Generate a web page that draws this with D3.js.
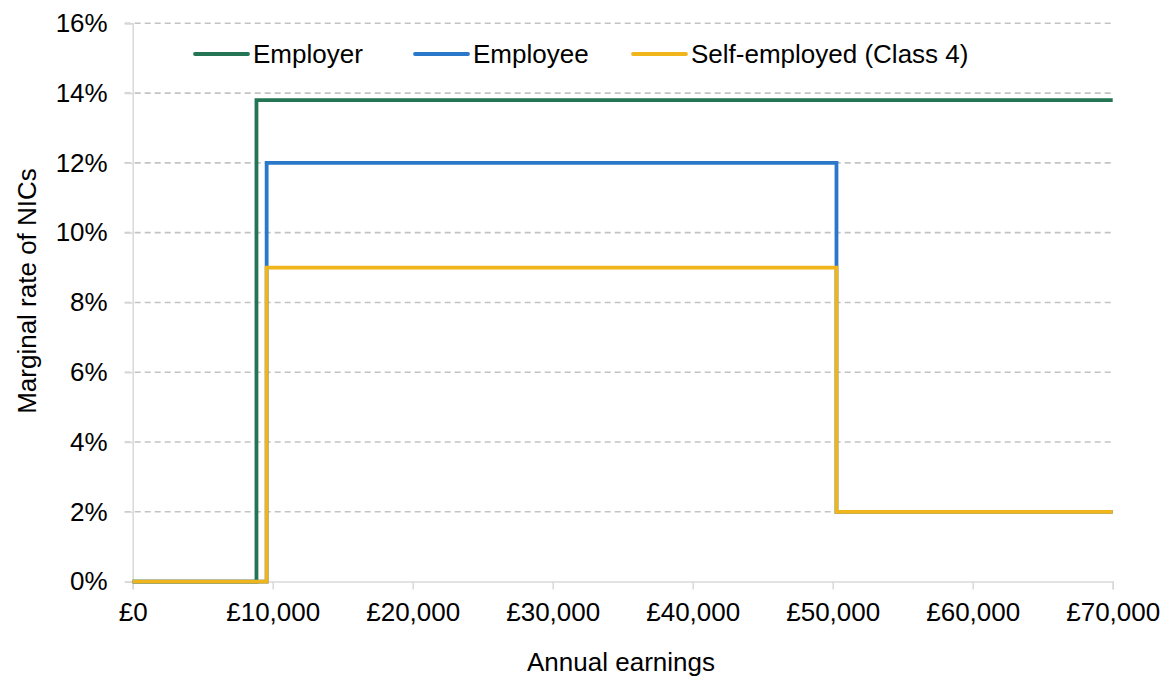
<!DOCTYPE html>
<html><head><meta charset="utf-8">
<script src="https://cdn.jsdelivr.net/npm/d3@7"></script>
<style>body{margin:0;background:#fff}svg{display:block}text{font-family:"Liberation Sans",Arial,sans-serif}</style>
</head><body><svg id="c" width="1176" height="676"></svg>
<script>
const seriesNames = ["Employer", "Employee", "Self-employed (Class 4)"];
const seriesColors = ["#237553", "#2a78c9", "#f1b51c"];
const employerEarnings = [0, 8840, 70000];
const employerRates = [0, 13.8, 13.8];
const employeeEarnings = [0, 9568, 50270, 70000];
const employeeRates = [0, 12, 2, 2];
const selfEarnings = [0, 9568, 50270, 70000];
const selfRates = [0, 9, 2, 2];
const xTicks = [0, 10000, 20000, 30000, 40000, 50000, 60000, 70000];
const yTicks = [0, 2, 4, 6, 8, 10, 12, 14, 16];

const series = [
  {name: seriesNames[0], color: seriesColors[0], pts: employerEarnings.map((e,i)=>({x:e,y:employerRates[i]}))},
  {name: seriesNames[1], color: seriesColors[1], pts: employeeEarnings.map((e,i)=>({x:e,y:employeeRates[i]}))},
  {name: seriesNames[2], color: seriesColors[2], pts: selfEarnings.map((e,i)=>({x:e,y:selfRates[i]}))}
];

const FS = 26;
const svg = d3.select("#c");
const L = 132.7, R = 1112.7, T = 23.3, B = 581.6;
const x = d3.scaleLinear().domain([0, 70000]).range([L, R]);
const y = d3.scaleLinear().domain([0, 16]).range([B, T]);

// gridlines
svg.append("g").selectAll("line").data(yTicks.filter(d=>d>0)).join("line")
  .attr("x1", L-8).attr("x2", R).attr("y1", d=>y(d)).attr("y2", d=>y(d))
  .attr("stroke", "#c3c3c3").attr("stroke-width", 1.6).attr("stroke-dasharray", "6,4");

// y axis
const ya = svg.append("g").attr("transform", `translate(${L},0)`)
  .call(d3.axisLeft(y).tickValues(yTicks).tickFormat(d=>d+"%").tickSize(8).tickPadding(17));
ya.select(".domain").attr("stroke", "#d9d9d9").attr("stroke-width", 1.5);
ya.selectAll(".tick line").attr("stroke", "#d9d9d9").attr("stroke-width", 1.5);
ya.selectAll(".tick text").attr("font-size", FS).attr("fill", "#000").attr("font-family", "Liberation Sans, Arial, sans-serif");

// x axis
const xa = svg.append("g").attr("transform", `translate(0,${B})`)
  .call(d3.axisBottom(x).tickValues(xTicks).tickFormat(d=>"£"+d3.format(",")(d)).tickSize(8).tickPadding(13));
xa.select(".domain").attr("stroke", "#d9d9d9").attr("stroke-width", 1.5);
xa.selectAll(".tick line").attr("stroke", "#d9d9d9").attr("stroke-width", 1.5);
xa.selectAll(".tick text").attr("font-size", FS).attr("fill", "#000").attr("font-family", "Liberation Sans, Arial, sans-serif");

// lines
const line = d3.line().x(d=>x(d.x)).y(d=>y(d.y)).curve(d3.curveStepAfter);
svg.append("g").selectAll("path").data(series).join("path")
  .attr("d", d=>line(d.pts)).attr("fill", "none").attr("stroke", d=>d.color)
  .attr("stroke-width", 3.8).attr("stroke-linejoin", "miter").attr("stroke-linecap", "butt");

// legend
const legX = [195, 415, 633];
const lg = svg.append("g").selectAll("g").data(series).join("g")
  .attr("transform", (d,i)=>`translate(${legX[i]},54)`);
lg.append("line").attr("x1", 0).attr("x2", 53).attr("y1", 0).attr("y2", 0)
  .attr("stroke", d=>d.color).attr("stroke-width", 3.8).attr("stroke-linecap", "round");
lg.append("text").attr("x", 58).attr("y", 0).attr("dy", "0.35em").attr("font-size", FS).text(d=>d.name);

// titles
svg.append("text").attr("x", 621).attr("y", 671).attr("text-anchor", "middle").attr("font-size", FS).text("Annual earnings");
svg.append("text").attr("transform", `translate(36,${291}) rotate(-90)`).attr("text-anchor", "middle").attr("font-size", FS).text("Marginal rate of NICs");
</script></body></html>
